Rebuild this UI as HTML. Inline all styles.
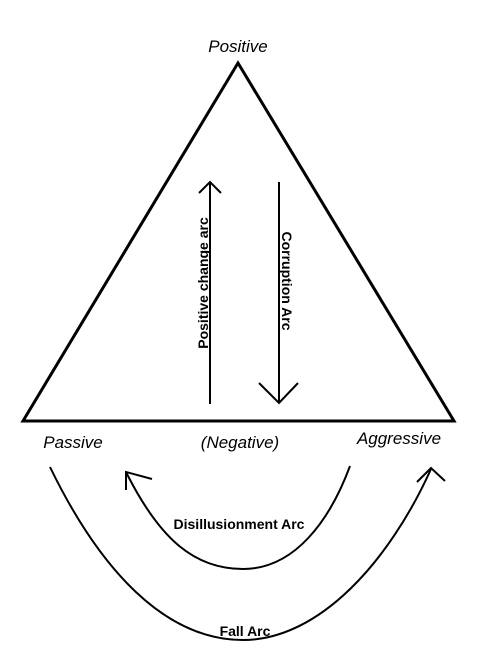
<!DOCTYPE html>
<html><head><meta charset="utf-8"><style>
html,body{margin:0;padding:0;background:#fff;}
svg{display:block;}
text{font-family:"Liberation Sans",Arial,sans-serif;fill:#000;}
</style></head><body>
<svg width="497" height="672" viewBox="0 0 497 672" xmlns="http://www.w3.org/2000/svg">
<polygon points="238,63 23,421 454,421" fill="none" stroke="#000" stroke-width="3" stroke-linejoin="miter"/>
<text x="238" y="52" font-size="17" font-style="italic" text-anchor="middle">Positive</text>
<line x1="210" y1="404" x2="210" y2="182" stroke="#000" stroke-width="2"/>
<polyline points="199,193 210,182 221,193" fill="none" stroke="#000" stroke-width="2"/>
<text transform="translate(208,283) rotate(-90)" font-size="14" font-weight="bold" text-anchor="middle">Positive change arc</text>
<line x1="279" y1="182" x2="279" y2="403" stroke="#000" stroke-width="2"/>
<polyline points="259,383 279,403 298,383" fill="none" stroke="#000" stroke-width="2"/>
<text transform="translate(282,281) rotate(90)" font-size="14" font-weight="bold" text-anchor="middle">Corruption Arc</text>
<text x="73" y="448" font-size="17" font-style="italic" text-anchor="middle">Passive</text>
<text x="240" y="448" font-size="17" font-style="italic" text-anchor="middle">(Negative)</text>
<text x="399" y="444" font-size="17" font-style="italic" text-anchor="middle">Aggressive</text>
<path d="M350,466 C330,520 295,569 243,569 C195,569 160,540 126,472" fill="none" stroke="#000" stroke-width="2"/>
<polyline points="126,490 126,472 152,479" fill="none" stroke="#000" stroke-width="2"/>
<text x="239" y="529" font-size="14" font-weight="bold" text-anchor="middle">Disillusionment Arc</text>
<path d="M50,467 C100,570 165,640 243,640 C320,640 390,560 431,469" fill="none" stroke="#000" stroke-width="2"/>
<polyline points="417,482 431,468 445,481" fill="none" stroke="#000" stroke-width="2"/>
<text x="245" y="636" font-size="14" font-weight="bold" text-anchor="middle">Fall Arc</text>
</svg>
</body></html>
